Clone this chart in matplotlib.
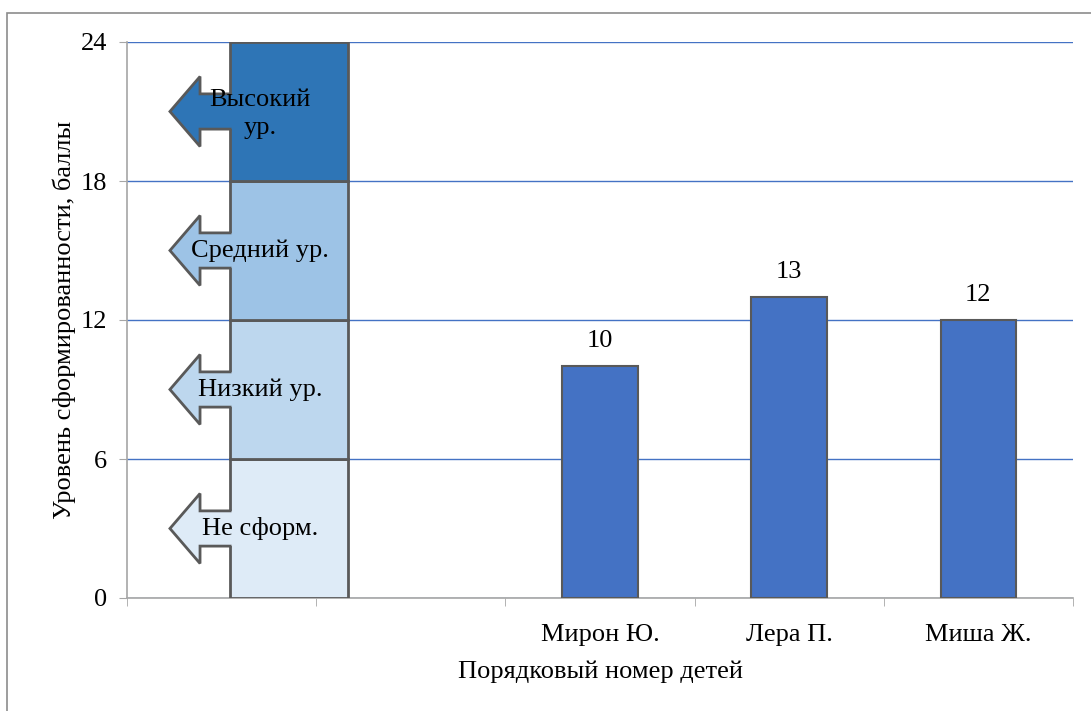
import matplotlib
matplotlib.use('Agg')
import matplotlib.pyplot as plt
import numpy as np
from matplotlib.patches import Polygon, Rectangle

plt.rcParams['font.family'] = ['Liberation Serif', 'DejaVu Serif']

# children and their scores
names = ['', '', 'Мирон Ю.', 'Лера П.', 'Миша Ж.']
scores = [None, None, 10, 13, 12]

# level scale drawn as a stacked column in the first slot
levels = ['Не сформ.', 'Низкий ур.', 'Средний ур.', 'Высокий\nур.']
level_bottoms = [0, 6, 12, 18]
level_heights = [6, 6, 6, 6]
level_colors = ['#DEEBF7', '#BDD7EE', '#9DC3E6', '#2E75B6']
label_y = [3, 9, 15, 21]

yticks = [0, 6, 12, 18, 24]

fs = 19

fig = plt.figure(figsize=(10.91, 7.11), dpi=100)
ax = fig.add_axes([127/1091, 113/711, 946/1091, 556/711])

edge = '#595959'
x = np.arange(len(names))

# data bars
for xi, s in zip(x, scores):
    if s is None:
        continue
    ax.bar(xi, s, width=0.4, color='#4472C4', edgecolor=edge, linewidth=1.5, zorder=3)
    ax.annotate(str(s), (xi, s), xytext=(0, 18), textcoords='offset points',
                ha='center', va='center', fontsize=fs)

# stacked scale column
col_left, col_w = 0.045, 0.623
for b, h, c in zip(level_bottoms, level_heights, level_colors):
    ax.bar(col_left, h, bottom=b, width=col_w, align='edge', color=c,
           edgecolor=edge, linewidth=2, zorder=3)

# left-pointing arrows with captions
tip, head_back = -0.273, -0.114
for yc, c, txt in zip(label_y, level_colors, levels):
    hh, sh = 1.51, 0.76
    pts = [(col_left + 0.01, yc + sh), (head_back, yc + sh), (head_back, yc + hh),
           (tip, yc), (head_back, yc - hh), (head_back, yc - sh), (col_left + 0.01, yc - sh)]
    ax.add_patch(Polygon(pts, closed=True, facecolor=c, edgecolor='none', zorder=4))
    outline = [(col_left, yc + sh)] + pts[1:6] + [(col_left, yc - sh)]
    ox, oy = zip(*outline)
    ax.plot(ox, oy, color=edge, linewidth=2, zorder=5, solid_joinstyle='miter')
    ax.text(0.205, yc - (0.1 if '\n' in txt else 0), txt, ha='center', va='center',
            fontsize=fs, zorder=6, linespacing=1.35)

ax.set_xlim(-0.5, 4.5)
ax.set_ylim(0, 24)
ax.set_yticks(yticks)
ax.set_xticks(x)
ax.set_xticklabels(names)
ax.set_xticks(np.arange(-0.5, 5, 1), minor=True)

ax.grid(axis='y', color='#4472C4', linewidth=1, zorder=0)
ax.set_axisbelow(True)
for s in ['top', 'right']:
    ax.spines[s].set_visible(False)
for s in ['left', 'bottom']:
    ax.spines[s].set_color('#A6A6A6')
    ax.spines[s].set_linewidth(1.2)

ax.tick_params(axis='y', length=6, color='#A6A6A6', labelsize=fs, pad=8.5)
ax.tick_params(axis='x', which='major', length=0, labelsize=fs, pad=19)
ax.tick_params(axis='x', which='minor', length=6, color='#A6A6A6')

ax.set_ylabel('Уровень сформированности, баллы', fontsize=fs, labelpad=3)
ax.set_xlabel('Порядковый номер детей', fontsize=fs, labelpad=10)

# outer chart border
fig.patches.append(Rectangle((7/1091, -0.1), 1.2, 1 - 13/711 + 0.1, transform=fig.transFigure,
                             fill=False, edgecolor='#8C8C8C', linewidth=1.2))

fig.savefig('out.png', dpi=100)
